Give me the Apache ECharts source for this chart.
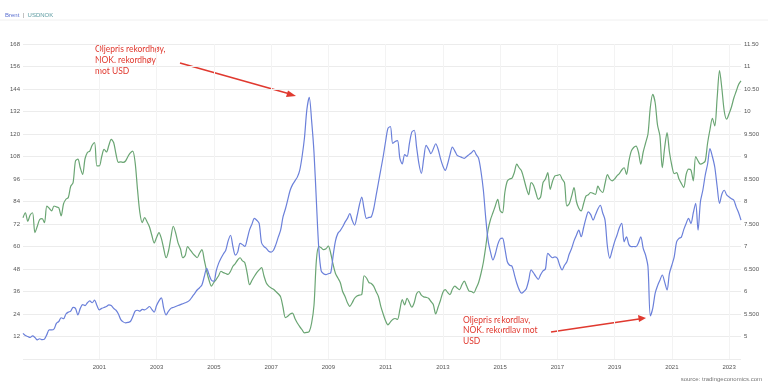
<!DOCTYPE html>
<html>
<head>
<meta charset="utf-8">
<script src="https://cdn.jsdelivr.net/npm/echarts@6/dist/echarts.min.js"></script>
<style>
html,body{margin:0;padding:0;background:#fff;}
#chart{width:768px;height:385px;}
</style>
</head>
<body>
<div id="chart"></div>
<script>
// Monthly series, first value = 1998-05
const startYear = 1998, startMonth = 5;
const brent = [
13.7,12.5,12.0,11.5,12.3,11.5,10.2,10.8,10.3,10.6,13.0,15.5,
15.5,16.0,19.0,20.0,22.0,21.5,24.0,25.0,25.5,27.5,27.0,23.5,
27.0,29.0,28.5,30.0,31.0,30.0,31.4,28.5,26.2,27.0,27.5,28.0,
28.9,28.5,27.0,26.0,24.0,21.0,19.8,19.3,19.5,20.0,22.5,25.5,
26.0,25.5,26.5,26.2,27.0,28.0,26.5,25.0,28.5,31.0,32.6,27.0,
23.5,25.5,27.0,27.5,28.0,28.5,29.0,29.5,30.0,30.5,31.5,33.3,
35.0,36.8,38.0,39.5,44.0,48.4,45.0,42.0,41.5,47.0,51.0,53.7,
56.0,58.0,63.0,66.0,60.0,55.4,57.0,61.7,61.0,60.0,64.0,69.0,
72.0,75.0,74.0,72.3,62.0,60.0,59.0,57.5,57.0,58.0,61.0,65.0,
68.7,75.8,80.0,85.0,90.0,93.0,95.0,97.0,100.6,108.0,118.0,133.0,
139.6,127.0,110.0,84.0,59.0,47.0,45.5,45.0,45.5,46.0,55.0,63.0,
67.0,68.5,70.5,73.0,75.0,77.6,74.0,71.4,76.0,82.0,86.4,80.0,
75.0,75.5,75.8,80.0,87.0,94.0,101.0,108.0,116.0,123.0,124.0,115.0,
116.0,116.5,107.0,104.0,109.0,108.0,115.0,121.0,122.0,113.0,104.0,99.0,
107.0,114.0,112.0,109.5,112.0,114.8,112.0,107.0,103.0,100.6,104.0,109.0,
113.0,111.0,108.6,108.0,107.5,107.0,108.0,109.0,110.0,111.3,109.0,107.0,
100.0,90.0,75.0,63.0,57.0,52.8,56.0,61.0,64.0,64.5,59.0,52.0,
50.0,49.5,45.0,40.4,37.0,35.1,36.0,37.5,42.0,47.5,46.0,44.0,
42.5,45.0,47.0,48.0,56.4,55.0,54.0,54.5,53.7,50.0,47.5,50.0,
51.9,56.0,59.0,63.0,66.0,68.7,65.2,70.0,75.0,78.5,77.0,74.1,
77.0,80.0,82.0,78.0,74.1,60.0,53.7,58.0,62.5,66.0,70.0,72.3,
62.5,65.2,61.0,59.9,60.0,59.9,62.0,65.2,59.0,55.4,49.2,23.0,
27.0,35.0,39.0,42.0,44.8,41.0,36.8,45.7,50.0,54.5,62.5,64.3,
65.0,69.0,72.3,75.0,72.3,78.0,83.0,68.7,84.0,90.0,98.0,104.0,
112.2,108.0,102.4,92.0,83.0,88.0,90.0,87.5,86.4,85.5,84.7,81.0,
78.0,74.1
];
const usdnok = [
7.64,7.75,7.56,7.70,7.75,7.31,7.45,7.60,7.62,7.53,7.90,7.85,
7.79,7.90,7.88,7.86,7.68,7.95,8.05,8.09,8.34,8.42,8.90,8.94,
8.75,8.60,8.95,9.09,9.12,9.25,9.31,8.79,8.79,9.00,9.16,9.10,
9.25,9.38,9.31,9.05,8.87,8.88,8.87,8.90,9.00,9.08,9.12,8.87,
8.27,7.75,7.53,7.64,7.55,7.44,7.25,7.08,7.20,7.31,7.18,6.95,
6.75,6.90,7.20,7.45,7.30,7.08,6.95,6.75,6.80,7.00,6.93,6.86,
6.80,6.75,6.85,6.93,6.70,6.45,6.25,6.12,6.20,6.27,6.35,6.45,
6.42,6.40,6.38,6.45,6.56,6.62,6.70,6.75,6.68,6.64,6.40,6.15,
6.25,6.34,6.42,6.48,6.53,6.35,6.19,6.12,6.08,6.05,6.00,5.95,
5.88,5.65,5.42,5.45,5.50,5.52,5.40,5.30,5.22,5.15,5.08,5.09,
5.11,5.30,5.70,6.70,7.00,6.97,6.93,6.95,7.01,6.85,6.60,6.40,
6.30,6.20,6.00,5.89,5.75,5.67,5.75,5.85,5.90,5.92,5.93,6.35,
6.30,6.20,6.18,6.12,6.00,5.89,5.67,5.50,5.35,5.26,5.32,5.38,
5.40,5.38,5.60,5.82,5.70,5.85,5.75,5.65,5.75,5.95,6.00,5.92,
5.88,5.87,5.85,5.78,5.71,5.50,5.65,5.80,5.98,6.04,5.98,5.93,
6.05,6.12,6.08,6.04,6.15,6.23,6.12,6.01,6.00,5.97,6.08,6.20,
6.40,6.65,7.00,7.38,7.60,7.75,7.90,8.05,7.80,7.75,8.20,8.45,
8.50,8.52,8.65,8.83,8.75,8.68,8.50,8.30,8.15,8.42,8.36,8.20,
8.05,8.10,8.42,8.50,8.64,8.27,8.45,8.57,8.58,8.60,8.50,8.42,
7.90,7.95,8.12,8.31,8.00,7.85,7.79,7.95,8.12,8.15,8.20,8.18,
8.16,8.34,8.25,8.20,8.40,8.60,8.50,8.46,8.50,8.57,8.62,8.70,
8.75,8.60,8.90,9.12,9.20,9.23,9.10,8.83,9.10,9.30,9.50,10.10,
10.38,10.20,9.70,9.46,8.75,9.20,9.53,9.10,8.80,8.62,8.64,8.50,
8.40,8.31,8.60,8.72,8.70,8.46,9.00,8.90,8.83,8.85,8.90,9.30,
9.60,9.85,9.68,10.30,10.91,10.50,10.00,9.83,9.95,10.10,10.30,10.45,
10.60,10.68
];
const xTickYears = ['2001','2003','2005','2007','2009','2011','2013','2015','2017','2019','2021','2023'];
const leftTickValues = [12,24,36,48,60,72,84,96,108,120,132,144,156,168];
const rightTickValues = [5,5.5,6,6.5,7,7.5,8,8.5,9,9.5,10,10.5,11,11.5];
const rightTickLabels = ['5','5.500','6','6.500','7','7.500','8','8.500','9','9.500','10','10.50','11','11.50'];

const months = [];
for (let i = 0; i < brent.length; i++) {
  const t = (startMonth - 1) + i;
  const y = startYear + Math.floor(t / 12);
  const m = t % 12 + 1;
  months.push(y + '-' + String(m).padStart(2, '0'));
}
function isTick(idx, val) {
  return val.slice(5) === '01' && xTickYears.indexOf(val.slice(0, 4)) >= 0;
}

const chart = echarts.init(document.getElementById('chart'), null, {renderer: 'canvas'});
const FONT = 'Liberation Sans';
const red = '#e0392f';
chart.setOption({
  animation: false,
  backgroundColor: '#fff',
  grid: {left: 23, right: 27, top: 44, bottom: 26, containLabel: false},
  xAxis: {
    type: 'category', data: months, boundaryGap: false,
    axisLine: {show: false}, axisTick: {show: false},
    axisLabel: {interval: isTick, formatter: v => v.slice(0, 4), fontSize: 6, color: '#555', fontFamily: FONT, margin: 5},
    splitLine: {show: true, interval: isTick, lineStyle: {color: '#f3f3f3', width: 1}}
  },
  yAxis: [
    {type: 'value', min: 0, max: 168, interval: 12, position: 'left',
     axisLine: {show: false}, axisTick: {show: false},
     axisLabel: {showMinLabel: false, fontSize: 6, color: '#555', fontFamily: FONT, margin: 3,
       formatter: v => (leftTickValues.indexOf(v) >= 0 ? String(v) : '')},
     splitLine: {show: true, lineStyle: {color: '#ececec', width: 1}}},
    {type: 'value', min: 4.5, max: 11.5, interval: 0.5, position: 'right',
     axisLine: {show: false}, axisTick: {show: false},
     axisLabel: {showMinLabel: false, fontSize: 6, color: '#555', fontFamily: FONT, margin: 3,
       formatter: v => {
         const k = rightTickValues.findIndex(t => Math.abs(t - v) < 1e-6);
         return k >= 0 ? rightTickLabels[k] : '';
       }},
     splitLine: {show: false}}
  ],
  series: [
    {name: 'Brent', type: 'line', yAxisIndex: 0, data: brent, showSymbol: false, smooth: 0.3,
     lineStyle: {color: '#6b80da', width: 1.2}, itemStyle: {color: '#6b80da'}, z: 3},
    {name: 'USDNOK', type: 'line', yAxisIndex: 1, data: usdnok, showSymbol: false, smooth: 0.3,
     lineStyle: {color: '#6aa573', width: 1.2}, itemStyle: {color: '#6aa573'}, z: 2}
  ],
  graphic: [
    {type: 'line', shape: {x1: 0, y1: 20, x2: 768, y2: 20}, style: {stroke: '#f0f0f0', lineWidth: 1}},
    {type: 'text', left: 5, top: 9, style: {
      text: '{a|Brent} {s||} {b|USDNOK}',
      rich: {a: {fill: '#5a6fd0', fontSize: 6, fontFamily: FONT},
             s: {fill: '#888', fontSize: 6, fontFamily: FONT},
             b: {fill: '#5a9aa0', fontSize: 6, fontFamily: FONT}}}},
    {type: 'text', left: 95, top: 44, style: {
      text: 'Oljepris rekordhøy,\nNOK. rekordhøy\nmot USD',
      fill: red, fontSize: 8.5, lineHeight: 11, fontFamily: 'Lato'}},
    {type: 'line', shape: {x1: 180, y1: 63, x2: 290, y2: 94}, style: {stroke: red, lineWidth: 1.6}},
    {type: 'polygon', shape: {points: [[296, 96], [288, 90.5], [286, 97]]}, style: {fill: red}},
    {type: 'text', left: 463, top: 315, style: {
      text: 'Oljepris rekordlav,\nNOK. rekordlav mot\nUSD',
      fill: red, fontSize: 8.5, lineHeight: 10.5, fontFamily: 'Lato'}},
    {type: 'line', shape: {x1: 551, y1: 332, x2: 639, y2: 319}, style: {stroke: red, lineWidth: 1.6}},
    {type: 'polygon', shape: {points: [[646, 318], [638, 315], [639, 322]]}, style: {fill: red}},
    {type: 'text', right: 6, top: 376, style: {
      text: 'source: tradingeconomics.com', fill: '#777', fontSize: 6, fontFamily: FONT}}
  ]
});
</script>
</body>
</html>
